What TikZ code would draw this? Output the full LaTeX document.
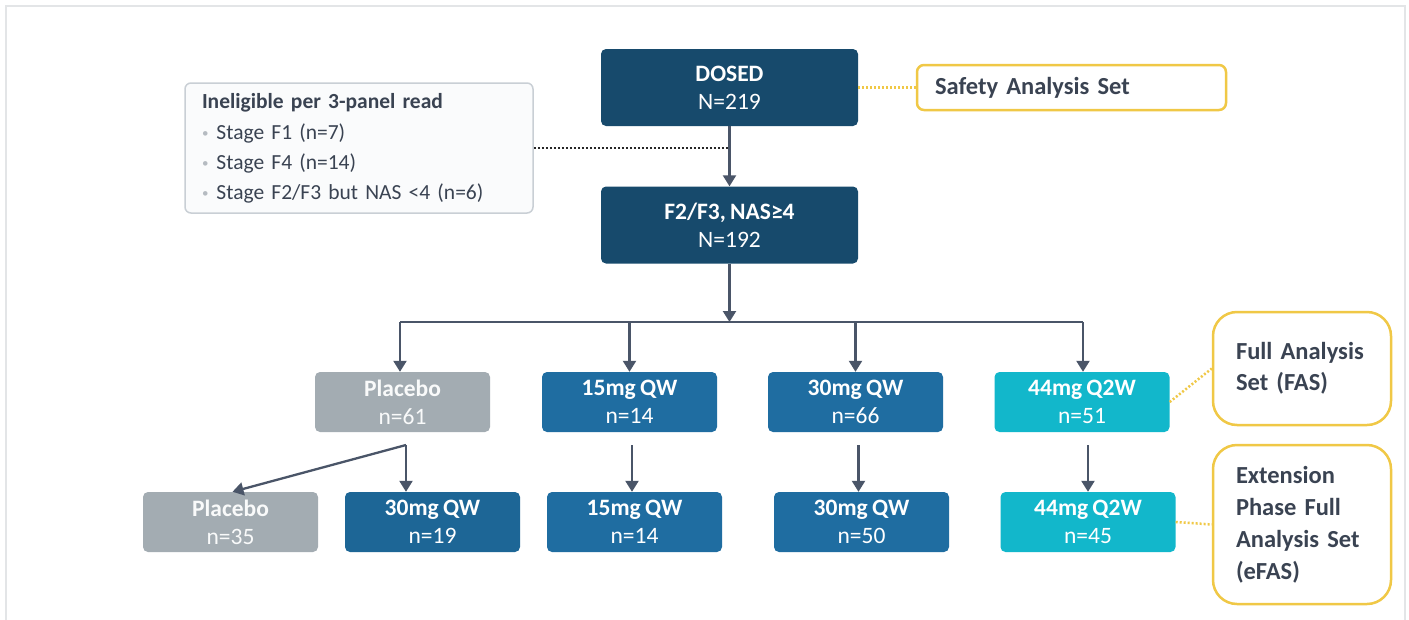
\documentclass[tikz,border=0pt]{standalone}
\usepackage{fontspec}
\setmainfont{Carlito}[WordSpace=0.8]
\usetikzlibrary{arrows.meta}
\definecolor{navy}{HTML}{174A6C}
\definecolor{midblue}{HTML}{1F6DA1}
\definecolor{cyanbox}{HTML}{12B7CB}
\definecolor{greybox}{HTML}{A3ACB2}
\definecolor{txtdark}{HTML}{3A4352}
\definecolor{linecol}{HTML}{4A5568}
\definecolor{goldline}{HTML}{F0C846}
\definecolor{framegrey}{HTML}{E3E5E7}
\definecolor{inelborder}{HTML}{C9CFD5}
\definecolor{inelfill}{HTML}{FAFBFC}
\definecolor{bulletgrey}{HTML}{B5BBC1}
\newcommand{\mybul}{{\color{bulletgrey}\raisebox{1.5pt}{\fontsize{13}{13}\selectfont\textbullet}}\hspace{8pt}}
\begin{document}
\begin{tikzpicture}[x=1pt,y=-1pt,
  box/.style={rounded corners=5pt, minimum width=175pt, minimum height=60pt, text=white, align=center, inner sep=0pt, font=\fontsize{23.5}{28}\selectfont},
  bigbox/.style={box, fill=navy, minimum width=257pt, minimum height=77pt},
  navybox/.style={box, fill=navy},
  bluebox/.style={box, fill=midblue},
  cyanb/.style={box, fill=cyanbox},
  greyb/.style={box, fill=greybox, text=white!94!greybox},
  setlabel/.style={draw=goldline, line width=2.5pt, fill=white, text=txtdark, align=left, font=\fontsize{24.5}{31}\selectfont\bfseries},
  arr/.style={draw=linecol, line width=2.3pt, -{Triangle[width=13pt,length=11pt]}},
  plain/.style={draw=linecol, line width=2.3pt},
  golddots/.style={draw=goldline, line width=2.5pt, dash pattern=on 2pt off 2pt},
  blackdots/.style={draw=black!85, line width=2.5pt, dash pattern=on 2pt off 2pt}
]
\useasboundingbox (0,0) rectangle (1409,619);
\fill[white] (0,0) rectangle (1409,619);
\draw[framegrey, line width=2pt] (6,625) -- (6,6) -- (1405,6) -- (1405,625);

% top nodes
\node[bigbox] (dosed) at (729.5,87.5) {\textbf{DOSED}\\N=219};
\node[bigbox] (f23) at (729.5,225) {\textbf{F2/F3, NAS≥4}\\N=192};
\node[setlabel, rounded corners=7pt, minimum width=309pt, minimum height=45pt, text width=273pt, inner xsep=18pt] (safety) at (1071.5,87.5) {Safety Analysis Set};

\node[draw=inelborder, line width=1.5pt, fill=inelfill, rounded corners=6pt, minimum width=348pt, minimum height=130pt, text width=314pt, inner xsep=17pt, align=left, text=txtdark, font=\fontsize{21.5}{30}\selectfont] (inel) at (359,148)
 {\textbf{Ineligible per 3-panel read}\\[1pt]
  \mybul Stage F1 (n=7)\\
  \mybul Stage F4 (n=14)\\
  \mybul Stage F2/F3 but NAS <4 (n=6)};

% row 1
\node[greyb] (pl1) at (402.5,402) {\textbf{Placebo}\\n=61};
\node[bluebox] (m15a) at (629.5,402) {\textbf{15mg QW}\\n=14};
\node[bluebox] (m30a) at (855.5,402) {\textbf{30mg QW}\\n=66};
\node[cyanb] (q44a) at (1082,402) {\textbf{44mg Q2W}\\n=51};

% row 2
\node[greyb] (pl2) at (230.5,522) {\textbf{Placebo}\\n=35};
\node[navybox, fill=midblue!80!navy] (m30c) at (432.5,522) {\textbf{30mg QW}\\n=19};
\node[bluebox] (m15b) at (634.5,522) {\textbf{15mg QW}\\n=14};
\node[bluebox] (m30b) at (861.5,522) {\textbf{30mg QW}\\n=50};
\node[cyanb] (q44b) at (1088,522) {\textbf{44mg Q2W}\\n=45};

% side labels
\node[setlabel, rounded corners=24pt, minimum width=178pt, minimum height=113pt, text width=132pt, inner xsep=23pt] (fas) at (1302,368.5) {Full Analysis\\Set (FAS)};
\node[setlabel, rounded corners=24pt, minimum width=178pt, minimum height=159pt, text width=132pt, inner xsep=23pt, font=\fontsize{24.5}{32}\selectfont\bfseries] (efas) at (1302,524.5) {Extension\\Phase Full\\Analysis Set\\(eFAS)};

% coordinates
\coordinate (busC) at (729.5,322);
\coordinate (busL) at (400,322);
\coordinate (busR) at (1083,322);
\coordinate (split) at (406,445);
\coordinate (inelJoin) at (inel.east -| dosed.south);

% connectors
\draw[arr] (dosed) -- (f23);
\draw[blackdots] (inel.east) -- (inelJoin);
\draw[golddots] (dosed.east) -- (safety.west);
\draw[arr] (f23) -- (busC);
\draw[plain] (busL) -- (busR);
\draw[arr] (busL) -- (busL |- pl1.north);
\draw[arr] (m15a.north |- busC) -- (m15a.north);
\draw[arr] (m30a.north |- busC) -- (m30a.north);
\draw[arr] (busR) -- (busR |- q44a.north);

\draw[arr] (split) -- (split |- m30c.north);
\draw[arr] (split) -- ([xshift=2pt]pl2.north);

\draw[arr, shorten <=13pt] ([xshift=-2.5pt]m15b.north |- m15a.south) -- ([xshift=-2.5pt]m15b.north);
\draw[arr, shorten <=13pt] ([xshift=-3pt]m30b.north |- m30a.south) -- ([xshift=-3pt]m30b.north);
\draw[arr, shorten <=13pt] (q44b.north |- q44a.south) -- (q44b.north);

\draw[golddots] (q44a.east) -- (fas.west);
\draw[golddots] (q44b.east) -- (efas.west);
\end{tikzpicture}
\end{document}
